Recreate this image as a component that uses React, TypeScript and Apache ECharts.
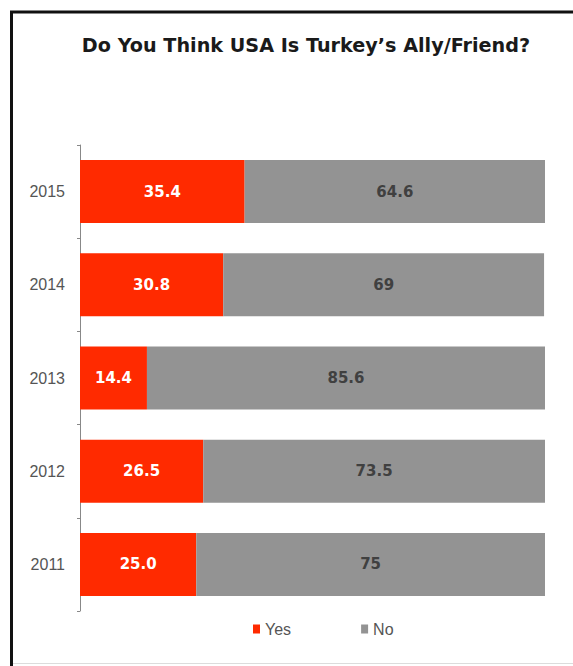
import React, { useEffect, useRef } from "react";
import * as echarts from "echarts";

const years = ["2011", "2012", "2013", "2014", "2015"];
const yesValues = [25.0, 26.5, 14.4, 30.8, 35.4];
const noValues = [75, 73.5, 85.6, 69, 64.6];
const yesLabels = ["25.0", "26.5", "14.4", "30.8", "35.4"];
const noLabels = ["75", "73.5", "85.6", "69", "64.6"];
const titleText = "Do You Think USA Is Turkey\u2019s Ally/Friend?";

export default function App() {
  const ref = useRef<HTMLDivElement>(null);
  useEffect(() => {
    if (!ref.current) return;
    const chart = echarts.init(ref.current, null, { renderer: "svg" });
    chart.setOption({
      animation: false,
      backgroundColor: "#ffffff",
      title: {
        text: titleText,
        left: 301,
        top: 31,
        textAlign: "center",
        textStyle: { fontFamily: "DejaVu Sans", fontWeight: "bold", fontSize: 19.2, color: "#1a1a1a" },
      },
      graphic: [
        { type: "line", shape: { x1: 11.5, y1: 11, x2: 11.5, y2: 666 }, style: { stroke: "#111", lineWidth: 3 } },
        { type: "line", shape: { x1: 10, y1: 12, x2: 573, y2: 12 }, style: { stroke: "#111", lineWidth: 3 } },
        { type: "line", shape: { x1: 13, y1: 663.5, x2: 573, y2: 663.5 }, style: { stroke: "#dcdcdc", lineWidth: 1 } },
      ],
      legend: {
        data: ["Yes", "No"],
        left: 248,
        top: 616,
        icon: "rect",
        itemWidth: 7,
        itemHeight: 9,
        itemGap: 70,
        textStyle: { fontFamily: "Liberation Sans", fontSize: 16, color: "#555" },
      },
      grid: { left: 80, right: 28, top: 145, bottom: 55 },
      xAxis: { type: "value", min: 0, max: 100, show: false },
      yAxis: {
        type: "category",
        data: years,
        axisLine: { show: true, lineStyle: { color: "#888", width: 1 } },
        axisTick: { show: true, length: 3, lineStyle: { color: "#888" } },
        axisLabel: { fontFamily: "Liberation Sans", fontSize: 16, color: "#555", margin: 15 },
      },
      series: [
        {
          name: "Yes",
          type: "bar",
          stack: "total",
          barWidth: 63,
          data: yesValues,
          itemStyle: { color: "#ff2a00" },
          label: {
            show: true,
            position: "inside",
            formatter: (p: any) => yesLabels[p.dataIndex],
            color: "#ffffff",
            fontFamily: "DejaVu Sans",
            fontWeight: "bold",
            fontSize: 15,
          },
        },
        {
          name: "No",
          type: "bar",
          stack: "total",
          barWidth: 63,
          data: noValues,
          itemStyle: { color: "#939393" },
          label: {
            show: true,
            position: "inside",
            formatter: (p: any) => noLabels[p.dataIndex],
            color: "#404040",
            fontFamily: "DejaVu Sans",
            fontWeight: "bold",
            fontSize: 15,
          },
        },
      ],
    });
    return () => chart.dispose();
  }, []);
  return <div ref={ref} style={{ position: "fixed", left: 0, top: 0, width: 573, height: 666 }} />;
}
